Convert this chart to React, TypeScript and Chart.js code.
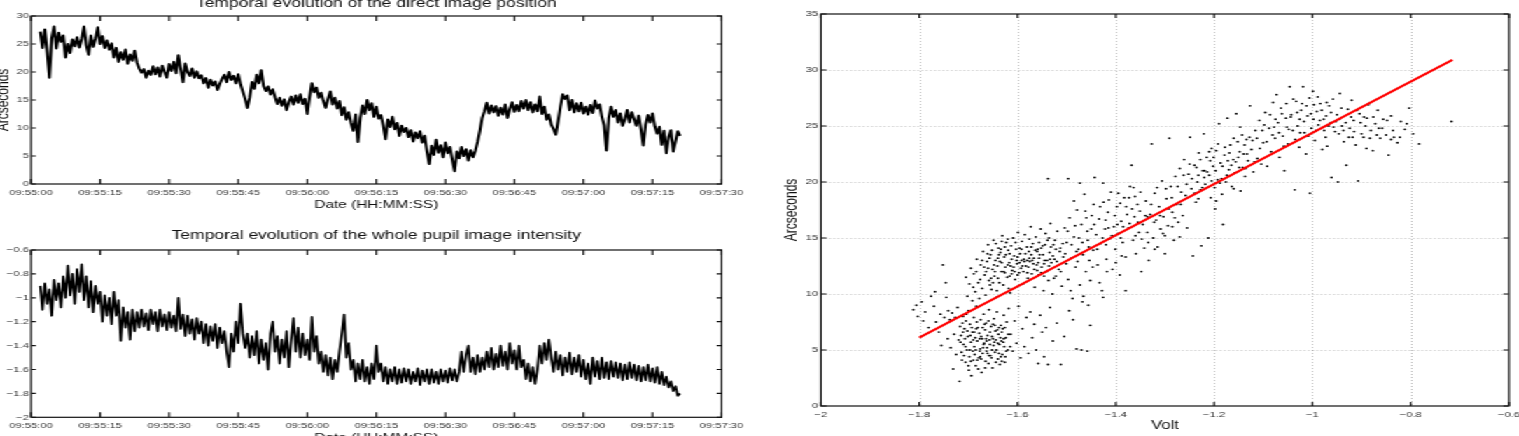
import React, { useEffect, useRef } from "react";
import { Chart, registerables } from "chart.js";

Chart.register(...registerables);

const H_STRETCH = 1.4;
const INNER_W = 1519 / H_STRETCH;
const FONT = "'Liberation Sans', Arial, Helvetica, sans-serif";

// ---------- time axis ----------
const timeTickSeconds = [0, 15, 30, 45, 60, 75, 90, 105, 120, 135, 150];
const timeTickLabels = [
  "09:55:00", "09:55:15", "09:55:30", "09:55:45", "09:56:00", "09:56:15",
  "09:56:30", "09:56:45", "09:57:00", "09:57:15", "09:57:30",
];
const FIRST_SAMPLE_S = 2;
const SAMPLE_STEP_S = 0.5;

// ---------- top panel: direct image position (arcsec) ----------
const positionTicks = [0, 5, 10, 15, 20, 25, 30];
const positionArcsec = [
  27.2, 24.3, 27.6, 23.5, 19.0, 26.0, 28.1, 24.2, 27.0, 25.4,
  26.5, 22.6, 25.0, 23.4, 25.8, 24.6, 26.2, 24.4, 25.9, 28.1,
  24.8, 23.1, 26.5, 24.5, 26.0, 28.0, 25.0, 26.4, 24.3, 25.6,
  24.0, 25.1, 22.6, 24.3, 21.8, 23.5, 22.2, 24.0, 21.5, 23.1,
  22.0, 23.8, 21.7, 20.6, 19.9, 20.5, 19.0, 20.2, 19.5, 21.0,
  19.6, 20.8, 19.2, 21.1, 20.0, 19.0, 21.4, 20.2, 21.8, 19.8,
  23.0, 20.5, 18.2, 21.5, 20.0, 19.3, 20.6, 19.0, 20.1, 18.9,
  19.4, 18.0, 18.9, 17.2, 18.6, 17.6, 18.3, 16.8, 17.9, 18.8,
  19.5, 18.2, 20.0, 18.6, 19.3, 18.0, 19.6, 17.8, 16.5, 15.2,
  13.6, 15.5, 18.2, 17.0, 19.5, 18.0, 20.3, 17.5, 16.6, 17.4,
  16.0, 16.9, 15.5, 14.3, 15.4, 14.0, 15.1, 13.2, 14.6, 15.6,
  14.2, 15.8, 14.5, 16.0, 14.3, 15.2, 12.5, 15.5, 18.0, 16.4,
  17.2, 15.4, 16.3, 14.8, 13.6, 15.2, 16.5, 14.2, 15.4, 13.5,
  14.8, 12.3, 13.7, 11.5, 12.8, 10.9, 9.5, 12.4, 7.5, 11.8,
  14.0, 12.5, 15.0, 13.2, 14.4, 12.0, 13.8, 11.7, 12.3, 10.4,
  8.0, 11.5, 10.2, 12.0, 9.8, 10.9, 8.6, 10.4, 9.3, 10.0,
  8.4, 9.6, 7.6, 9.2, 8.2, 9.4, 7.4, 8.6, 5.8, 3.6,
  6.8, 5.2, 7.9, 5.6, 6.9, 4.8, 7.4, 5.5, 6.6, 4.4,
  2.3, 5.8, 4.6, 6.6, 5.0, 6.2, 4.2, 6.0, 4.8, 5.9,
  7.5, 9.5, 11.8, 13.0, 14.5, 12.6, 14.0, 12.8, 13.9, 12.2,
  13.6, 12.4, 14.2, 11.8, 13.4, 14.6, 12.9, 14.1, 13.0, 14.8,
  13.5, 15.0, 13.2, 14.6, 12.8, 14.2, 13.0, 15.6, 12.5, 13.8,
  11.5, 12.4, 10.6, 9.8, 8.8, 11.2, 13.8, 16.0, 15.2, 15.8,
  13.2, 15.0, 12.8, 14.4, 13.0, 14.5, 12.6, 13.8, 12.4, 14.1,
  12.7, 14.9, 13.5, 14.2, 12.0, 10.5, 6.0, 11.8, 13.8, 12.0,
  13.2, 11.0, 12.6, 10.4, 11.5, 13.2, 11.0, 12.8, 11.6, 10.4,
  12.2, 9.8, 6.9, 10.6, 12.3, 11.0, 12.6, 10.3, 9.0, 10.2,
  7.0, 9.5, 5.5, 8.4, 9.6, 5.8, 7.6, 9.4, 8.6,
];

// ---------- bottom panel: whole pupil intensity (V) ----------
const intensityTicks = [-2, -1.8, -1.6, -1.4, -1.2, -1, -0.8, -0.6];
const intensityVolt = [
  -0.90, -1.10, -0.88, -1.05, -0.93, -1.15, -0.85, -1.02, -0.88, -1.08,
  -0.82, -1.00, -0.73, -0.98, -0.80, -1.05, -0.76, -0.95, -0.72, -1.02,
  -0.82, -1.08, -0.86, -1.12, -0.90, -1.05, -0.95, -1.20, -0.98, -1.15,
  -1.00, -1.22, -0.95, -1.15, -1.02, -1.36, -1.08, -1.25, -1.12, -1.35,
  -1.10, -1.28, -1.12, -1.25, -1.10, -1.24, -1.13, -1.27, -1.10, -1.22,
  -1.12, -1.28, -1.10, -1.24, -1.14, -1.27, -1.12, -1.25, -1.15, -1.28,
  -1.00, -1.26, -1.14, -1.32, -1.15, -1.30, -1.18, -1.35, -1.17, -1.30,
  -1.20, -1.38, -1.22, -1.40, -1.24, -1.36, -1.22, -1.42, -1.25, -1.38,
  -1.28, -1.45, -1.58, -1.30, -1.45, -1.20, -1.38, -1.05, -1.30, -1.42,
  -1.30, -1.50, -1.32, -1.48, -1.28, -1.55, -1.35, -1.52, -1.38, -1.60,
  -1.30, -1.20, -1.45, -1.32, -1.55, -1.35, -1.50, -1.28, -1.58, -1.35,
  -1.17, -1.45, -1.25, -1.50, -1.30, -1.48, -1.35, -1.52, -1.16, -1.45,
  -1.32, -1.55, -1.45, -1.62, -1.48, -1.65, -1.50, -1.68, -1.52, -1.62,
  -1.45, -1.30, -1.14, -1.50, -1.38, -1.60, -1.52, -1.70, -1.55, -1.68,
  -1.52, -1.70, -1.58, -1.72, -1.55, -1.68, -1.40, -1.62, -1.55, -1.70,
  -1.58, -1.72, -1.60, -1.70, -1.58, -1.72, -1.60, -1.71, -1.59, -1.70,
  -1.60, -1.72, -1.62, -1.70, -1.59, -1.73, -1.61, -1.70, -1.60, -1.72,
  -1.60, -1.71, -1.62, -1.72, -1.60, -1.70, -1.61, -1.71, -1.59, -1.69,
  -1.60, -1.70, -1.62, -1.45, -1.62, -1.48, -1.40, -1.62, -1.50, -1.64,
  -1.48, -1.62, -1.50, -1.60, -1.45, -1.58, -1.42, -1.60, -1.47, -1.58,
  -1.40, -1.57, -1.45, -1.60, -1.38, -1.55, -1.44, -1.60, -1.40, -1.58,
  -1.52, -1.68, -1.55, -1.70, -1.58, -1.72, -1.60, -1.40, -1.55, -1.38,
  -1.52, -1.35, -1.50, -1.62, -1.45, -1.60, -1.48, -1.65, -1.50, -1.62,
  -1.46, -1.64, -1.50, -1.62, -1.48, -1.66, -1.52, -1.68, -1.55, -1.72,
  -1.50, -1.66, -1.53, -1.68, -1.50, -1.67, -1.54, -1.68, -1.53, -1.66,
  -1.54, -1.67, -1.55, -1.69, -1.56, -1.68, -1.54, -1.67, -1.56, -1.69,
  -1.57, -1.70, -1.58, -1.69, -1.56, -1.70, -1.59, -1.71, -1.58, -1.72,
  -1.62, -1.73, -1.66, -1.75, -1.70, -1.78, -1.74, -1.82, -1.80,
];

// ---------- right panel: arcsec vs volt ----------
const voltTicks = [-2, -1.8, -1.6, -1.4, -1.2, -1, -0.8, -0.6];
const arcsecTicks = [0, 5, 10, 15, 20, 25, 30, 35];
const voltArcsecPairs: [number, number][] = [
  [-1.812,8.6],[-1.803,8.0],[-1.795,9.3],[-1.788,8.4],[-1.781,7.0],[-1.776,9.8],[-1.770,8.9],[-1.766,7.5],[-1.760,6.6],[-1.757,8.2],
  [-1.752,12.6],[-1.749,7.9],[-1.745,9.7],[-1.742,6.0],[-1.741,8.5],[-1.806,9.0],[-1.792,7.6],[-1.768,10.2],[-1.755,5.4],[-1.746,11.0],
  [-1.738,7.7],[-1.736,5.2],[-1.733,8.3],[-1.731,3.3],[-1.729,6.4],[-1.727,7.9],[-1.725,4.6],[-1.722,8.8],[-1.720,5.9],[-1.718,2.2],
  [-1.717,7.1],[-1.715,6.3],[-1.713,4.1],[-1.711,8.0],[-1.710,5.5],[-1.708,6.9],[-1.706,3.9],[-1.705,7.6],[-1.703,5.0],[-1.701,6.2],
  [-1.700,8.5],[-1.698,4.4],[-1.697,7.3],[-1.695,5.7],[-1.694,2.7],[-1.692,6.6],[-1.691,4.9],[-1.689,7.9],[-1.688,5.3],[-1.686,6.1],
  [-1.685,3.6],[-1.684,8.9],[-1.682,5.8],[-1.681,7.0],[-1.679,4.3],[-1.678,6.5],[-1.676,5.1],[-1.675,7.7],[-1.673,3.0],[-1.672,6.0],
  [-1.671,4.7],[-1.669,8.2],[-1.668,5.6],[-1.666,6.8],[-1.665,4.0],[-1.664,7.4],[-1.662,5.2],[-1.661,6.3],[-1.659,3.8],[-1.658,8.6],
  [-1.657,5.9],[-1.655,4.5],[-1.654,7.1],[-1.652,6.2],[-1.651,3.4],[-1.649,5.4],[-1.648,7.8],[-1.646,4.8],[-1.645,6.7],[-1.643,5.0],
  [-1.642,8.4],[-1.640,4.2],[-1.639,6.4],[-1.637,5.5],[-1.636,3.7],[-1.634,7.2],[-1.633,5.8],[-1.631,4.6],[-1.630,6.9],[-1.628,8.1],
  [-1.627,5.3],[-1.625,4.4],[-1.624,6.1],[-1.622,7.5],[-1.620,5.0],[-1.714,4.8],[-1.699,3.2],[-1.687,4.6],[-1.674,6.2],[-1.663,4.9],
  [-1.650,6.0],[-1.638,7.0],[-1.626,3.9],[-1.702,6.7],[-1.690,5.9],[-1.677,4.9],[-1.667,7.3],[-1.656,5.5],[-1.644,5.9],[-1.632,6.6],
  [-1.716,5.7],[-1.712,7.4],[-1.709,4.5],[-1.707,6.0],[-1.704,8.2],[-1.700,3.6],[-1.696,6.3],[-1.693,7.0],[-1.690,4.1],[-1.688,6.6],
  [-1.685,5.0],[-1.683,7.5],[-1.680,3.3],[-1.677,6.0],[-1.674,4.2],[-1.671,7.0],[-1.669,5.5],[-1.666,3.4],[-1.664,6.0],[-1.661,4.7],
  [-1.659,7.6],[-1.656,6.6],[-1.653,4.3],[-1.650,7.3],[-1.647,5.7],[-1.644,3.9],[-1.641,6.8],[-1.638,4.7],[-1.635,6.1],[-1.632,4.0],
  [-1.629,5.7],[-1.626,7.0],[-1.623,4.9],[-1.619,6.4],[-1.615,5.3],[-1.706,5.3],[-1.697,5.0],[-1.684,6.9],[-1.676,4.4],[-1.663,5.8],
  [-1.652,5.0],[-1.640,5.6],[-1.628,6.0],[-1.711,6.6],[-1.695,4.0],[-1.682,4.1],[-1.670,5.2],[-1.658,4.5],[-1.646,7.2],[-1.634,4.4],
  [-1.705,11.5],[-1.702,9.8],[-1.698,10.9],[-1.695,12.3],[-1.692,9.4],[-1.689,11.8],[-1.686,10.2],[-1.683,13.1],[-1.680,11.0],[-1.678,9.6],
  [-1.675,12.6],[-1.672,10.5],[-1.670,13.8],[-1.667,11.7],[-1.665,9.9],[-1.662,12.9],[-1.660,14.4],[-1.658,11.2],[-1.655,13.5],[-1.653,10.4],
  [-1.651,12.2],[-1.649,14.8],[-1.647,11.6],[-1.645,13.0],[-1.643,9.7],[-1.641,12.5],[-1.639,14.1],[-1.637,11.0],[-1.635,13.7],[-1.633,12.0],
  [-1.631,15.2],[-1.629,10.8],[-1.627,13.3],[-1.625,12.4],[-1.623,14.6],[-1.621,11.5],[-1.619,13.9],[-1.617,12.8],[-1.615,10.1],[-1.613,14.3],
  [-1.611,12.1],[-1.609,15.0],[-1.607,13.4],[-1.605,11.3],[-1.603,14.0],[-1.601,12.7],[-1.599,15.5],[-1.597,11.9],[-1.595,13.6],[-1.593,12.3],
  [-1.591,14.7],[-1.589,10.9],[-1.587,13.1],[-1.585,15.3],[-1.583,12.5],[-1.581,14.2],[-1.579,11.4],[-1.577,13.8],[-1.575,12.9],[-1.573,16.0],
  [-1.571,11.8],[-1.569,14.5],[-1.567,13.2],[-1.565,10.6],[-1.563,15.1],[-1.561,12.6],[-1.559,14.0],[-1.557,11.7],[-1.555,13.5],[-1.553,15.8],
  [-1.551,12.4],[-1.549,14.3],[-1.547,10.3],[-1.545,13.0],[-1.543,15.4],[-1.541,12.0],[-1.539,14.8],[-1.537,11.2],[-1.535,13.7],[-1.533,16.3],
  [-1.531,12.8],[-1.529,10.0],[-1.527,14.4],[-1.525,13.1],[-1.522,11.6],[-1.519,15.6],[-1.516,12.2],[-1.513,14.1],[-1.510,10.7],[-1.507,13.3],
  [-1.504,15.9],[-1.501,12.7],[-1.668,12.4],[-1.657,13.2],[-1.646,12.0],[-1.634,14.0],[-1.626,11.9],[-1.616,13.6],[-1.606,12.0],[-1.596,14.1],
  [-1.586,12.9],[-1.576,14.9],[-1.566,12.2],[-1.556,14.6],[-1.546,12.7],[-1.536,15.0],[-1.526,11.4],[-1.640,13.2],[-1.620,12.6],[-1.600,13.3],
  [-1.580,13.0],[-1.560,13.8],[-1.654,11.4],[-1.632,12.8],[-1.612,11.8],[-1.592,13.0],[-1.572,13.5],[-1.552,14.1],
  [-1.664,12.0],[-1.661,13.6],[-1.656,10.8],[-1.652,13.9],[-1.648,12.6],[-1.644,14.5],[-1.640,11.4],[-1.636,12.9],[-1.632,14.7],[-1.628,12.0],
  [-1.624,13.5],[-1.620,14.9],[-1.616,11.6],[-1.612,13.1],[-1.608,12.4],[-1.604,14.6],[-1.600,11.7],[-1.596,12.8],[-1.592,14.0],[-1.588,12.0],
  [-1.584,13.6],[-1.580,11.9],[-1.576,13.2],[-1.572,14.2],[-1.568,12.7],[-1.564,13.9],[-1.560,12.1],[-1.556,13.2],[-1.552,11.9],[-1.548,13.5],
  [-1.544,14.4],[-1.540,13.0],[-1.536,12.5],[-1.532,14.2],[-1.528,13.4],[-1.524,14.8],[-1.520,12.9],[-1.514,13.8],[-1.508,14.5],[-1.503,13.6],
  [-1.676,11.3],[-1.684,12.0],[-1.690,10.6],[-1.672,13.0],[-1.660,12.3],[-1.650,11.0],[-1.638,13.5],[-1.626,14.2],[-1.614,12.5],[-1.602,13.0],
  [-1.590,12.5],[-1.578,12.4],[-1.570,13.0],[-1.558,12.8],[-1.546,11.6],[-1.534,13.1],[-1.522,14.0],[-1.512,12.0],[-1.642,10.3],[-1.618,10.5],
  [-1.618,8.7],[-1.614,6.4],[-1.610,4.9],[-1.606,7.6],[-1.602,5.6],[-1.598,8.9],[-1.594,4.3],[-1.590,6.9],[-1.586,5.3],[-1.582,7.9],
  [-1.578,4.7],[-1.574,8.4],[-1.570,6.1],[-1.566,7.3],[-1.562,5.0],[-1.558,3.8],[-1.554,8.1],[-1.550,6.6],[-1.546,4.4],[-1.542,7.0],
  [-1.538,3.7],[-1.534,8.8],[-1.528,5.8],[-1.520,7.4],[-1.512,3.7],[-1.505,6.2],[-1.495,8.5],[-1.480,5.1],[-1.468,9.3],[-1.458,4.9],[-1.452,7.2],
  [-1.500,14.6],[-1.497,11.3],[-1.494,16.8],[-1.491,13.2],[-1.488,9.6],[-1.485,15.1],[-1.482,12.4],[-1.479,17.5],[-1.476,14.0],[-1.473,10.8],
  [-1.470,16.2],[-1.467,13.5],[-1.464,18.9],[-1.461,12.0],[-1.458,15.6],[-1.455,14.2],[-1.452,11.2],[-1.449,17.0],[-1.446,13.9],[-1.443,20.4],
  [-1.440,15.3],[-1.437,12.6],[-1.434,16.7],[-1.431,14.5],[-1.428,10.3],[-1.425,18.2],[-1.422,15.8],[-1.419,13.1],[-1.416,17.3],[-1.413,14.9],
  [-1.410,19.1],[-1.407,12.2],[-1.404,16.0],[-1.401,14.0],[-1.398,17.8],[-1.395,15.4],[-1.392,11.7],[-1.389,16.5],[-1.386,14.6],[-1.383,18.6],
  [-1.380,13.3],[-1.377,17.1],[-1.374,15.9],[-1.371,19.6],[-1.368,21.5],[-1.365,14.8],[-1.362,16.9],[-1.359,13.6],[-1.356,18.0],[-1.353,15.5],
  [-1.351,17.4],[-1.497,20.3],[-1.473,19.9],[-1.426,19.9],[-1.538,20.3],[-1.485,18.3],[-1.460,16.8],[-1.445,18.0],[-1.415,15.9],[-1.395,19.0],
  [-1.372,16.3],[-1.492,10.3],[-1.466,9.8],[-1.433,11.0],[-1.400,12.8],[-1.480,13.8],[-1.454,13.0],[-1.420,14.4],[-1.388,13.4],[-1.360,15.2],
  [-1.426,9.7],[-1.456,9.0],[-1.487,7.7],[-1.470,5.0],[-1.380,10.3],
  [-1.498,15.6],[-1.490,14.4],[-1.483,16.1],[-1.475,15.0],[-1.468,14.6],[-1.462,17.4],[-1.457,14.8],[-1.450,15.8],[-1.444,16.2],[-1.438,14.0],
  [-1.432,17.8],[-1.427,15.0],[-1.421,16.6],[-1.414,18.4],[-1.408,15.2],[-1.402,17.0],[-1.397,16.2],[-1.391,18.1],[-1.385,16.0],[-1.379,17.8],
  [-1.373,18.6],[-1.367,17.6],[-1.361,18.7],[-1.355,16.4],[-1.350,19.1],[-1.478,12.9],[-1.447,12.4],[-1.418,12.0],[-1.390,15.0],[-1.364,19.5],
  [-1.348,12.0],[-1.345,16.2],[-1.342,14.1],[-1.339,18.3],[-1.336,15.5],[-1.333,13.0],[-1.330,17.1],[-1.327,23.4],[-1.324,15.0],[-1.321,19.0],
  [-1.318,16.6],[-1.315,14.2],[-1.312,17.8],[-1.309,15.8],[-1.306,20.1],[-1.303,16.9],[-1.300,13.6],[-1.297,18.5],[-1.294,16.1],[-1.291,23.9],
  [-1.288,19.6],[-1.285,17.3],[-1.282,14.8],[-1.279,20.5],[-1.276,18.0],[-1.273,16.4],[-1.270,21.2],[-1.267,19.1],[-1.264,17.0],[-1.261,22.0],
  [-1.258,18.8],[-1.255,15.9],[-1.252,20.7],[-1.249,24.0],[-1.246,19.4],[-1.243,13.4],[-1.240,21.5],[-1.237,18.2],[-1.234,20.0],[-1.231,22.6],
  [-1.228,19.3],[-1.226,14.3],[-1.223,21.0],[-1.221,24.3],[-1.218,19.8],[-1.215,22.2],[-1.212,15.0],[-1.210,20.6],[-1.207,18.6],[-1.205,23.0],
  [-1.202,21.4],[-1.199,19.5],[-1.196,22.8],[-1.193,20.2],[-1.190,25.2],[-1.187,21.7],[-1.184,18.9],[-1.182,16.2],[-1.179,22.4],[-1.176,20.0],
  [-1.173,25.7],[-1.170,21.1],[-1.167,23.3],[-1.164,19.6],[-1.161,22.0],[-1.158,20.8],[-1.155,26.1],[-1.152,23.6],[-1.149,21.3],[-1.146,19.2],
  [-1.143,24.2],[-1.140,22.5],[-1.137,20.5],[-1.134,23.8],[-1.131,21.9],[-1.127,26.8],[-1.124,22.9],[-1.120,20.9],[-1.116,24.6],[-1.112,22.1],
  [-1.108,25.5],[-1.104,21.6],[-1.232,18.5],[-1.220,20.4],[-1.208,21.9],[-1.196,18.3],[-1.185,20.3],[-1.172,21.9],[-1.160,19.4],[-1.148,22.7],
  [-1.136,21.2],[-1.300,15.2],[-1.285,16.0],[-1.270,15.1],[-1.336,16.9],[-1.321,14.0],
  [-1.347,14.9],[-1.340,17.0],[-1.334,14.6],[-1.328,18.0],[-1.322,16.4],[-1.316,19.5],[-1.310,17.0],[-1.304,15.4],[-1.298,19.4],[-1.292,17.6],
  [-1.286,18.6],[-1.280,16.8],[-1.274,19.6],[-1.268,18.0],[-1.262,20.6],[-1.256,19.8],[-1.250,21.6],[-1.245,20.3],[-1.240,19.0],[-1.236,21.3],
  [-1.232,20.6],[-1.228,22.0],[-1.224,19.5],[-1.219,21.0],[-1.214,20.9],[-1.210,22.7],[-1.205,20.1],[-1.201,22.2],[-1.197,21.0],[-1.192,23.4],
  [-1.188,19.9],[-1.183,21.4],[-1.178,23.1],[-1.174,20.6],[-1.169,22.6],[-1.165,21.5],[-1.160,23.9],[-1.156,21.8],[-1.151,22.2],[-1.147,24.9],
  [-1.142,21.3],[-1.138,23.3],[-1.133,22.5],[-1.128,24.0],[-1.122,23.7],[-1.118,21.8],[-1.113,23.9],[-1.107,23.0],[-1.102,24.6],[-1.198,17.6],
  [-1.100,23.5],[-1.096,26.2],[-1.092,21.4],[-1.088,24.8],[-1.084,22.7],[-1.080,27.1],[-1.076,23.9],[-1.073,27.8],[-1.070,25.3],[-1.067,22.2],
  [-1.064,26.6],[-1.060,24.1],[-1.057,21.0],[-1.054,25.7],[-1.050,23.4],[-1.046,28.5],[-1.043,26.0],[-1.040,24.6],[-1.036,19.3],[-1.033,27.2],
  [-1.030,25.0],[-1.027,23.1],[-1.023,26.4],[-1.019,28.5],[-1.016,24.4],[-1.013,22.5],[-1.010,25.9],[-1.006,27.5],[-1.005,19.0],[-1.002,24.8],
  [-0.999,28.1],[-0.995,23.7],[-0.991,26.3],[-0.988,25.1],[-0.984,27.0],[-0.980,22.9],[-0.977,25.6],[-0.973,24.0],[-0.970,23.2],[-0.966,26.8],
  [-0.963,25.3],[-0.961,20.4],[-0.958,27.4],[-0.954,24.5],[-0.950,26.0],[-0.948,20.0],[-0.944,27.9],[-0.940,25.0],[-0.936,23.6],[-0.931,21.5],
  [-0.928,26.5],[-0.924,24.8],[-0.920,27.3],[-0.916,25.5],[-0.912,23.3],[-0.907,20.1],[-0.904,26.1],[-0.900,24.3],[-0.895,25.8],[-0.890,23.0],
  [-0.886,26.9],[-0.881,24.6],[-0.877,22.8],[-0.872,25.2],[-0.867,26.4],[-0.862,23.9],[-0.856,25.6],[-0.850,24.2],[-0.845,22.4],[-0.840,25.9],
  [-0.834,24.0],[-0.827,23.5],[-0.820,25.4],[-0.812,24.7],[-0.803,26.6],[-0.795,24.3],[-0.783,23.4],[-0.717,25.4],[-1.078,24.9],[-1.052,24.9],
  [-1.025,24.4],[-0.998,25.6],[-0.972,25.9],[-0.945,25.6],[-0.918,24.0],[-0.892,25.0],[-0.865,24.8],[-0.840,23.8],
  [-1.098,25.1],[-1.093,23.6],[-1.086,26.0],[-1.081,24.2],[-1.075,25.6],[-1.068,24.4],[-1.062,26.1],[-1.058,23.2],[-1.053,27.0],[-1.048,24.7],
  [-1.044,25.8],[-1.039,27.4],[-1.035,23.8],[-1.031,26.2],[-1.026,25.6],[-1.021,27.0],[-1.017,25.4],[-1.012,26.8],[-1.008,24.1],[-1.003,26.1],
  [-0.997,26.9],[-0.993,24.6],[-0.989,27.6],[-0.985,25.5],[-0.981,26.4],[-0.976,24.6],[-0.971,27.1],[-0.967,25.0],[-0.962,26.2],[-0.957,24.9],
  [-0.952,25.4],[-0.946,24.3],[-0.941,26.6],[-0.937,24.6],[-0.932,25.3],[-0.926,24.0],[-0.921,25.8],[-0.915,24.5],[-0.909,26.4],[-0.902,25.3],
  [-0.896,24.0],[-0.889,25.7],[-0.883,23.9],[-0.876,25.8],[-0.869,24.2],[-0.858,24.8],[-0.848,25.5],[-0.836,24.6],[-0.822,24.0],[-0.808,25.2],
];
const fitLineVolt = [-1.8, -0.715];
const fitLineArcsec = [6.1, 30.9];

// ---------- helpers ----------
const fmtTick = (v: number) => String(Math.round(v * 10) / 10).replace("-", "\u2212");
const fmtTime = (v: number) => {
  const i = timeTickSeconds.indexOf(Math.round(v));
  return i >= 0 ? timeTickLabels[i] : "";
};
const setTicks = (arr: number[]) => (scale: any) => {
  scale.ticks = arr.map((value) => ({ value }));
};

const matlabFrame = {
  id: "matlabFrame",
  beforeDatasetsDraw(chart: any, _args: any, opts: any) {
    if (!opts.dottedGrid) return;
    const { ctx, chartArea: a } = chart;
    const xs = chart.scales.x;
    const ys = chart.scales.y;
    ctx.save();
    ctx.strokeStyle = "rgba(0,0,0,0.32)";
    ctx.lineWidth = 0.8;
    ctx.setLineDash([1, 2]);
    ctx.beginPath();
    xs.ticks.forEach((t: any) => {
      const p = Math.round(xs.getPixelForValue(t.value)) + 0.5;
      if (p > a.left + 2 && p < a.right - 2) {
        ctx.moveTo(p, a.top);
        ctx.lineTo(p, a.bottom);
      }
    });
    ys.ticks.forEach((t: any) => {
      const p = Math.round(ys.getPixelForValue(t.value)) + 0.5;
      if (p > a.top + 2 && p < a.bottom - 2) {
        ctx.moveTo(a.left, p);
        ctx.lineTo(a.right, p);
      }
    });
    ctx.stroke();
    ctx.restore();
  },
  afterDraw(chart: any, _args: any, opts: any) {
    const { ctx, chartArea: a } = chart;
    const xs = chart.scales.x;
    const ys = chart.scales.y;
    const tx = opts.tickX ?? 5;
    const ty = opts.tickY ?? 3.5;
    ctx.save();
    ctx.strokeStyle = "#111";
    ctx.lineWidth = 1.2;
    ctx.setLineDash([]);
    ctx.beginPath();
    xs.ticks.forEach((t: any) => {
      const p = xs.getPixelForValue(t.value);
      ctx.moveTo(p, a.bottom);
      ctx.lineTo(p, a.bottom - tx);
      ctx.moveTo(p, a.top);
      ctx.lineTo(p, a.top + tx);
    });
    ys.ticks.forEach((t: any) => {
      const p = ys.getPixelForValue(t.value);
      ctx.moveTo(a.left, p);
      ctx.lineTo(a.left + ty, p);
      ctx.moveTo(a.right, p);
      ctx.lineTo(a.right - ty, p);
    });
    ctx.stroke();
    ctx.strokeRect(a.left, a.top, a.right - a.left, a.bottom - a.top);
    ctx.restore();
  },
};

const tickFont = { family: FONT, size: 8 };
const TICK_COLOR = "#333";

function timeSeriesConfig(p: {
  values: number[];
  yTicks: number[];
  title: string;
  yTitle: string | null;
  lineWidth: number;
  yWidth: number;
  topH: number;
  titlePadTop: number;
  bottomH: number;
  xTitlePadBottom: number;
  padRight: number;
}) {
  const data = p.values.map((y, i) => ({ x: FIRST_SAMPLE_S + i * SAMPLE_STEP_S, y }));
  return {
    type: "line",
    data: {
      datasets: [
        {
          data,
          borderColor: "#000",
          borderWidth: p.lineWidth,
          pointRadius: 0,
          tension: 0,
          borderJoinStyle: "round",
          fill: false,
        },
      ],
    },
    plugins: [matlabFrame],
    options: {
      animation: false,
      responsive: false,
      devicePixelRatio: 1,
      layout: { padding: { left: 0, top: 0, bottom: 0, right: p.padRight } },
      plugins: {
        legend: { display: false },
        tooltip: { enabled: false },
        matlabFrame: { tickX: 5, tickY: 3.5, dottedGrid: false },
      },
      scales: {
        x: {
          type: "linear",
          position: "bottom",
          min: timeTickSeconds[0],
          max: timeTickSeconds[timeTickSeconds.length - 1],
          afterBuildTicks: setTicks(timeTickSeconds),
          afterFit: (s: any) => {
            s.height = p.bottomH;
          },
          grid: { display: false, drawTicks: false },
          border: { display: false },
          ticks: {
            autoSkip: false,
            maxRotation: 0,
            padding: 4,
            font: tickFont,
            color: TICK_COLOR,
            callback: (v: number) => fmtTime(v),
          },
          title: {
            display: true,
            text: "Date (HH:MM:SS)",
            color: "#111",
            font: { family: FONT, size: 11 },
            padding: { top: 0, bottom: p.xTitlePadBottom },
          },
        },
        xTop: {
          type: "linear",
          position: "top",
          min: timeTickSeconds[0],
          max: timeTickSeconds[timeTickSeconds.length - 1],
          afterFit: (s: any) => {
            s.height = p.topH;
          },
          grid: { display: false, drawTicks: false },
          border: { display: false },
          ticks: { display: false },
          title: {
            display: true,
            text: p.title,
            color: "#111",
            font: { family: FONT, size: 12.5 },
            padding: { top: p.titlePadTop, bottom: 0 },
          },
        },
        y: {
          type: "linear",
          position: "left",
          min: p.yTicks[0],
          max: p.yTicks[p.yTicks.length - 1],
          afterBuildTicks: setTicks(p.yTicks),
          afterFit: (s: any) => {
            s.width = p.yWidth;
          },
          grid: { display: false, drawTicks: false },
          border: { display: false },
          ticks: {
            autoSkip: false,
            padding: 1.5,
            font: tickFont,
            color: TICK_COLOR,
            callback: (v: number) => fmtTick(v),
          },
          title: {
            display: !!p.yTitle,
            text: p.yTitle || "",
            color: "#111",
            font: { family: FONT, size: 12 },
            padding: { top: 0, bottom: 0 },
          },
        },
      },
    },
  };
}

function scatterConfig() {
  const pts = voltArcsecPairs.map(([x, y]) => ({ x, y }));
  const fit = fitLineVolt.map((x, i) => ({ x, y: fitLineArcsec[i] }));
  return {
    type: "scatter",
    data: {
      datasets: [
        {
          data: fit,
          showLine: true,
          borderColor: "#ff0000",
          borderWidth: 2,
          pointRadius: 0,
          order: 0,
        },
        {
          data: pts,
          pointRadius: 0.95,
          pointBorderWidth: 0,
          backgroundColor: "#000",
          borderColor: "#000",
          order: 1,
        },
      ],
    },
    plugins: [matlabFrame],
    options: {
      animation: false,
      responsive: false,
      devicePixelRatio: 1,
      layout: { padding: { left: 0, top: 14, bottom: 0, right: 17.14 } },
      plugins: {
        legend: { display: false },
        tooltip: { enabled: false },
        matlabFrame: { tickX: 4, tickY: 4, dottedGrid: true },
      },
      scales: {
        x: {
          type: "linear",
          min: voltTicks[0],
          max: voltTicks[voltTicks.length - 1],
          afterBuildTicks: setTicks(voltTicks),
          afterFit: (s: any) => {
            s.height = 30;
          },
          grid: { display: false, drawTicks: false },
          border: { display: false },
          ticks: {
            autoSkip: false,
            maxRotation: 0,
            padding: 4,
            font: tickFont,
            color: TICK_COLOR,
            callback: (v: number) => fmtTick(v),
          },
          title: {
            display: true,
            text: "Volt",
            color: "#111",
            font: { family: FONT, size: 12 },
            padding: { top: 0, bottom: 2.8 },
          },
        },
        y: {
          type: "linear",
          min: arcsecTicks[0],
          max: arcsecTicks[arcsecTicks.length - 1],
          afterBuildTicks: setTicks(arcsecTicks),
          afterFit: (s: any) => {
            s.width = 31.43;
          },
          grid: { display: false, drawTicks: false },
          border: { display: false },
          ticks: {
            autoSkip: false,
            padding: 2,
            font: tickFont,
            color: TICK_COLOR,
            callback: (v: number) => fmtTick(v),
          },
          title: {
            display: true,
            text: "Arcseconds",
            color: "#111",
            font: { family: FONT, size: 12 },
            padding: { top: 3.5, bottom: 0 },
          },
        },
      },
    },
  };
}

function ChartBox(props: { left: number; top: number; width: number; height: number; make: () => any }) {
  const ref = useRef<HTMLCanvasElement | null>(null);
  useEffect(() => {
    const chart = new Chart(ref.current as HTMLCanvasElement, props.make());
    return () => chart.destroy();
  }, []);
  return (
    <div
      style={{
        position: "absolute",
        left: props.left,
        top: props.top,
        width: props.width,
        height: props.height,
      }}
    >
      <canvas
        ref={ref}
        width={props.width}
        height={props.height}
        style={{ width: props.width, height: props.height, display: "block" }}
      />
    </div>
  );
}

export default function App() {
  return (
    <div
      style={{
        position: "absolute",
        left: 0,
        top: 0,
        width: 1519,
        height: 436,
        overflow: "hidden",
        background: "#fff",
      }}
    >
      <div
        style={{
          position: "absolute",
          left: 0,
          top: 0,
          width: INNER_W,
          height: 436,
          transform: `scaleX(${H_STRETCH})`,
          transformOrigin: "0 0",
        }}
      >
        <ChartBox
          left={-5}
          top={-4}
          width={540}
          height={218}
          make={() =>
            timeSeriesConfig({
              values: positionArcsec,
              yTicks: positionTicks,
              title: "Temporal evolution of the direct image position",
              yTitle: "Arcseconds",
              lineWidth: 2.1,
              yWidth: 27.14,
              topH: 20,
              titlePadTop: 0,
              bottomH: 30,
              xTitlePadBottom: 2.4,
              padRight: 19.29,
            })
          }
        />
        <ChartBox
          left={-5}
          top={218}
          width={540}
          height={230}
          make={() =>
            timeSeriesConfig({
              values: intensityVolt,
              yTicks: intensityTicks,
              title: "Temporal evolution of the whole pupil image intensity",
              yTitle: null,
              lineWidth: 1.8,
              yWidth: 27.14,
              topH: 32,
              titlePadTop: 10.5,
              bottomH: 30.7,
              xTitlePadBottom: 3.9,
              padRight: 19.29,
            })
          }
        />
        <ChartBox left={555} top={0} width={540} height={436} make={scatterConfig} />
      </div>
    </div>
  );
}
